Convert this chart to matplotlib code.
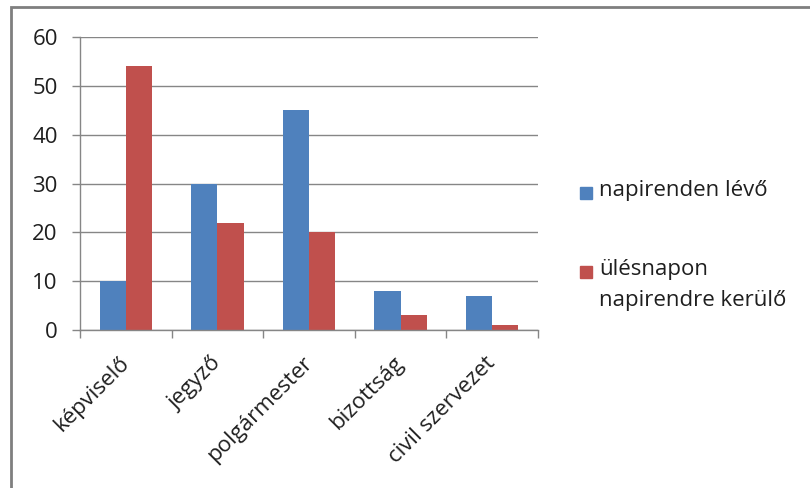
import matplotlib
matplotlib.use("Agg")
import matplotlib.pyplot as plt
from matplotlib.patches import Rectangle
import numpy as np

plt.rcParams['font.family'] = ['Open Sans', 'DejaVu Sans']

categories = ['képviselő', 'jegyző', 'polgármester', 'bizottság', 'civil szervezet']
napirenden = [10, 30, 45, 8, 7]
ulesnapon = [54, 22, 20, 3, 1]
series_names = ['napirenden lévő', 'ülésnapon\nnapirendre kerülő']
yticks = [0, 10, 20, 30, 40, 50, 60]

blue = '#4F81BD'
red = '#C0504D'
grid_c = '#868686'
text_c = '#1F1F1F'
fs = 16

fig = plt.figure(figsize=(8.10, 4.88), dpi=100)
ax = fig.add_axes([80 / 810, 1 - 330 / 488, 458 / 810, 293 / 488])

x = np.arange(len(categories))
w = 1 / 3.5
ax.bar(x - w / 2, napirenden, width=w, color=blue, label=series_names[0])
ax.bar(x + w / 2, ulesnapon, width=w, color=red, label=series_names[1])

ax.set_xlim(-0.5, len(categories) - 0.5)
ax.set_ylim(0, 60)
ax.set_yticks(yticks)
ax.set_yticklabels([str(t) for t in yticks], fontsize=fs, color=text_c)
ax.yaxis.grid(True, color=grid_c, linewidth=1)
ax.set_axisbelow(True)

# category ticks sit on the boundaries between groups
ax.set_xticks(np.arange(len(categories) + 1) - 0.5)
ax.set_xticklabels([])
ax.tick_params(axis='x', length=6, color=grid_c, width=1)
ax.tick_params(axis='y', length=6, color=grid_c, width=1, pad=10)

for s in ['top', 'right']:
    ax.spines[s].set_visible(False)
for s in ['left', 'bottom']:
    ax.spines[s].set_color(grid_c)
    ax.spines[s].set_linewidth(1)

for i, c in enumerate(categories):
    ax.text(i, -6.2, c, rotation=45, rotation_mode='anchor',
            ha='right', va='center', fontsize=fs, color=text_c,
            transform=ax.transData, clip_on=False)

# legend on the right
lx, lw = 580 / 810, 12 / 810
for yy, col, name in [(193, blue, series_names[0]), (272, red, series_names[1])]:
    fig.patches.append(Rectangle((lx, 1 - (yy + 6) / 488), lw, 12 / 488,
                                 transform=fig.transFigure, color=col))
    fig.text(599 / 810, 1 - (yy - 13) / 488, name, ha='left', va='top',
             fontsize=fs, color=text_c, linespacing=1.6)

# chart frame
fig.patches.append(Rectangle((11 / 810, -0.1), 1.2, 1.1 - 7 / 488,
                             transform=fig.transFigure, fill=False,
                             edgecolor='#7F7F7F', linewidth=2))

fig.savefig('out.png', dpi=100)
